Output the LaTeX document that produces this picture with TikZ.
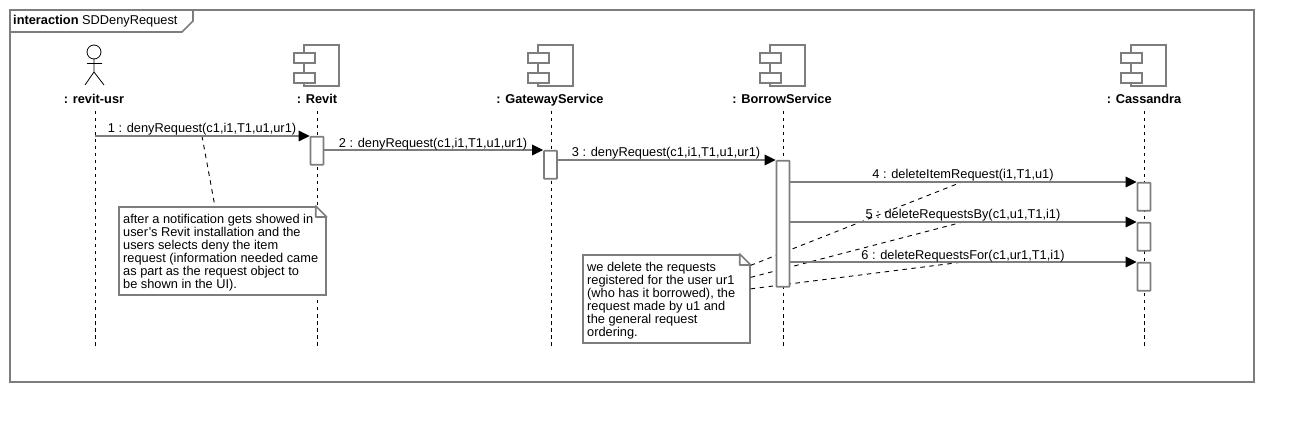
\documentclass[tikz,border=0pt]{standalone}
\usepackage{fontspec}
\setmainfont{Liberation Sans}
\usetikzlibrary{arrows.meta}
\definecolor{umlgray}{RGB}{125,125,125}
\tikzset{
  umlline/.style={draw=umlgray,line width=1.7pt},
  iconline/.style={draw=umlgray,line width=1.3pt},
  life/.style={black,line width=0.9pt,dash pattern=on 3.5pt off 3.5pt},
  notelink/.style={black,line width=0.9pt,dash pattern=on 4.5pt off 4.5pt},
  msg/.style={umlline,-{Triangle[color=black,fill=black,length=11pt,width=11pt,line width=0pt]}},
  headlabel/.style={font=\fontsize{12.8}{13}\selectfont\bfseries,inner sep=0pt,anchor=base},
  msglabel/.style={font=\fontsize{12.8}{13}\selectfont,inner sep=0pt,anchor=base},
  activation/.style={umlline,fill=white,rounded corners=0.6pt,minimum width=13pt,inner sep=0pt,anchor=north},
  notebox/.style={umlline,fill=white,minimum height=88pt,inner sep=0pt,anchor=north west},
  notetext/.style={font=\fontsize{12.8}{13}\selectfont,align=left,anchor=west,inner sep=0pt},
  fold/.pic={
    \fill[white] (-11.7,-0.9) -- (0.9,-0.9) -- (0.9,11.7) -- cycle;
    \draw[umlline,line join=round] (-11,0) -- (0,11) -- (-11,11) -- cycle;
  },
}
\begin{document}
\begin{tikzpicture}[x=1pt,y=-1pt]
    \useasboundingbox (0,0) rectangle (1294,422);

    % Frame and its tab
    \draw[umlline] (10,10) rectangle (1254,382);
    \draw[umlline] (10,32) -- (182,32) -- (193,21) -- (193,10);
    \node[anchor=base west,inner sep=0pt,font=\fontsize{12.8}{13}\selectfont] (frametitle) at (13,25)
        {\textbf{interaction} SDDenyRequest};

    % Lifeline heads
    \node[headlabel] (usr) at (94,103.5) {: revit-usr};
    \node[headlabel] (revit) at (317,103.5) {: Revit};
    \node[headlabel] (gateway) at (550,103.5) {: GatewayService};
    \node[headlabel] (borrow) at (782,103.5) {: BorrowService};
    \node[headlabel] (cassandra) at (1144,103.5) {: Cassandra};

    % Lifelines
    \foreach \name/\lx in {usr/95,revit/317,gateway/551,borrow/783,cassandra/1144}{
      \coordinate (\name top) at (\lx,111);
      \coordinate (\name end) at (\lx,348);
      \draw[life] (\name top) -- (\name end);
    }

    % Actor
    \draw[black,line width=0.8pt] (94,52) circle (7);
    \draw[black,line width=0.8pt] (94,59) -- (94,72) (87,63.5) -- (102,63.5)
        (85,85) -- (94,72) -- (104,85);

    % Component icons
    \foreach \lx in {317,551,783,1144}{
      \begin{scope}[shift={(\lx,0)}]
        \draw[iconline] (-13,53) -- (-13,45) -- (22,45) -- (22,86) -- (-13,86) -- (-13,83);
        \draw[iconline] (-13,63) -- (-13,73);
        \draw[iconline] (-23,53) rectangle (-2,63);
        \draw[iconline] (-23,73) rectangle (-2,83);
      \end{scope}
    }

    % Notes
    \node[notebox,minimum width=207pt] (noteusr) at (118,206) {};
    \pic at (noteusr.north east) {fold};
    \node[notetext,xshift=5pt,yshift=-1.5pt] (noteusrtext) at (noteusr.west)
        {after a notification gets showed in\\user\symbol{39}s Revit installation and the\\users selects deny the item\\request (information needed came\\as part as the request object to\\be shown in the UI).};
    \node[notebox,minimum width=167pt] (noteborrow) at (582,254) {};
    \pic at (noteborrow.north east) {fold};
    \node[notetext,xshift=5pt,yshift=-1.5pt] (noteborrowtext) at (noteborrow.west)
        {we delete the requests\\registered for the user ur1\\(who has it borrowed), the\\request made by u1 and\\the general request\\ordering.};

    % Note links
    \coordinate (m1link) at (202,136);
    \coordinate (m4link) at (962,182);
    \coordinate (m5link) at (963,222);
    \coordinate (m6link) at (963,262);
    \draw[notelink] (m1link) -- ([xshift=-7.5pt]noteusr.north);
    \draw[notelink] ([yshift=33.5pt]noteborrow.east) -- (m4link);
    \draw[notelink] ([yshift=21.5pt]noteborrow.east) -- (m5link);
    \draw[notelink] ([yshift=10pt]noteborrow.east) -- (m6link);

    % Activations
    \node[activation,minimum height=28pt] (arevit) at (317,136) {};
    \node[activation,minimum height=28pt] (agateway) at (550.5,150) {};
    \node[activation,minimum height=126pt] (aborrow) at (783,160) {};
    \node[activation,minimum height=28pt] (acass1) at (1144,182) {};
    \node[activation,minimum height=28pt] (acass2) at (1144,222) {};
    \node[activation,minimum height=28pt] (acass3) at (1144,262) {};

    % Messages
    \coordinate (m1) at (95,136);
    \draw[msg] (m1) -- (arevit.north west);
    \draw[msg] (arevit.east |- agateway.north) -- (agateway.north west);
    \draw[msg] (agateway.east |- aborrow.north) -- (aborrow.north west);
    \draw[msg] (aborrow.east |- acass1.north) -- (acass1.north west);
    \draw[msg] (aborrow.east |- acass2.north) -- (acass2.north west);
    \draw[msg] (aborrow.east |- acass3.north) -- (acass3.north west);
    \node[msglabel] (l1) at (202,132.5) {1 : denyRequest(c1,i1,T1,u1,ur1)};
    \node[msglabel] (l2) at (433,147.5) {2 : denyRequest(c1,i1,T1,u1,ur1)};
    \node[msglabel] (l3) at (666,156.5) {3 : denyRequest(c1,i1,T1,u1,ur1)};
    \node[msglabel] (l4) at (963,178.5) {4 : deleteItemRequest(i1,T1,u1)};
    \node[msglabel] (l5) at (963,218.5) {5 : deleteRequestsBy(c1,u1,T1,i1)};
    \node[msglabel] (l6) at (963,259.5) {6 : deleteRequestsFor(c1,ur1,T1,i1)};
\end{tikzpicture}
\end{document}
